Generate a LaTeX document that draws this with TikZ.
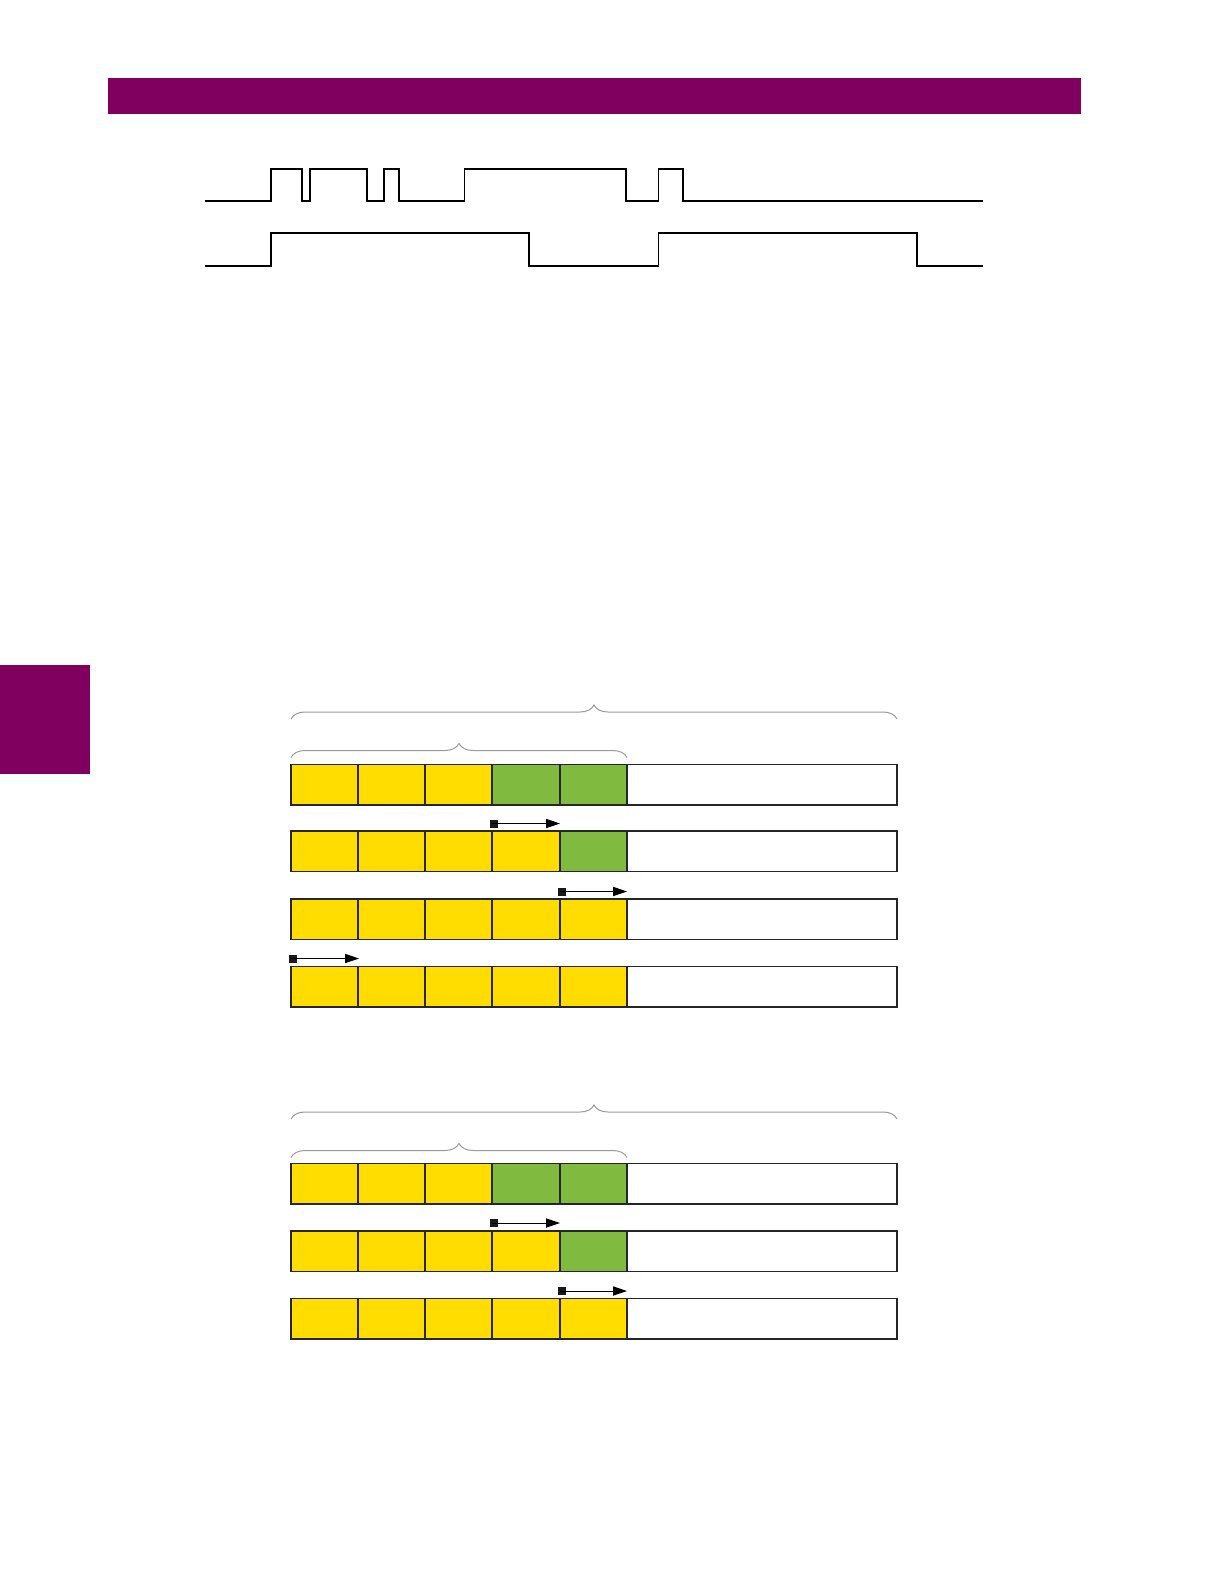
\documentclass[tikz,border=0pt]{standalone}
\usetikzlibrary{decorations.pathreplacing,arrows.meta}
\definecolor{gepurple}{RGB}{128,0,96}
\definecolor{regyellow}{RGB}{255,221,0}
\definecolor{reggreen}{RGB}{128,187,63}
\begin{document}
\begin{tikzpicture}[x=0.5bp,y=-0.5bp,
  wave/.style={line width=0.8bp,black},
  cellbox/.style={draw=black!85,line width=0.55bp},
  bracegray/.style={draw=black!40,line width=0.5bp,decorate,decoration={brace,amplitude=7bp}},
  shiftarrow/.style={line width=0.5bp,black,-{Triangle[length=7bp,width=4.6bp]}},
  marker/.style={fill=black!90}]
\useasboundingbox (0,0) rectangle (1224,1584);
% header bar and side tab
\fill[gepurple] (108,78) rectangle (1081,114);
\fill[gepurple] (0,665) rectangle (90,774);
% waveforms
\draw[wave] (205,201) -| (271,169) -| (302,201) -| (310,169) -| (367,201) -| (384,169) -| (399,201) -| (464.5,169) -| (626,201) -| (658.5,169) -| (683,201) -- (982.5,201);
\draw[wave] (205,266) -| (271,233) -| (529,266) -| (658.5,233) -| (917,266) -- (982.5,266);
% registers
\foreach \ry/\ng in {764.5/2, 831/1, 899/0, 966.5/0, 1163.5/2, 1231/1, 1298.5/0}{
  \foreach \i/\xa/\xb in {1/291/358, 2/358/425, 3/425/492, 4/492/560, 5/560/627}{
    \ifnum\i>\numexpr5-\ng\relax
      \fill[reggreen] (\xa,\ry) rectangle (\xb,\ry+40.5);
    \else
      \fill[regyellow] (\xa,\ry) rectangle (\xb,\ry+40.5);
    \fi
    \draw[cellbox] (\xa,\ry) rectangle (\xb,\ry+40.5);
  }
  \draw[cellbox] (627,\ry) rectangle (897,\ry+40.5);
}
% braces
\draw[bracegray] (291,719) -- (897,719);
\draw[bracegray] (291,757.5) -- (627,757.5);
\draw[bracegray] (291,1119) -- (897,1119);
\draw[bracegray] (291,1157.5) -- (627,1157.5);
% shift arrows
\foreach \xa/\xb/\ya in {492/560/823.5, 560/627/891.5, 291/359/958.5, 492/560/1223, 560/627/1291}{
  \coordinate (s) at (\xa,\ya);
  \coordinate (e) at (\xb,\ya);
  \fill[marker] ([xshift=-1bp,yshift=-2bp]s) rectangle ([xshift=3bp,yshift=2bp]s);
  \draw[shiftarrow] (s) -- (e);
}
\end{tikzpicture}
\end{document}
